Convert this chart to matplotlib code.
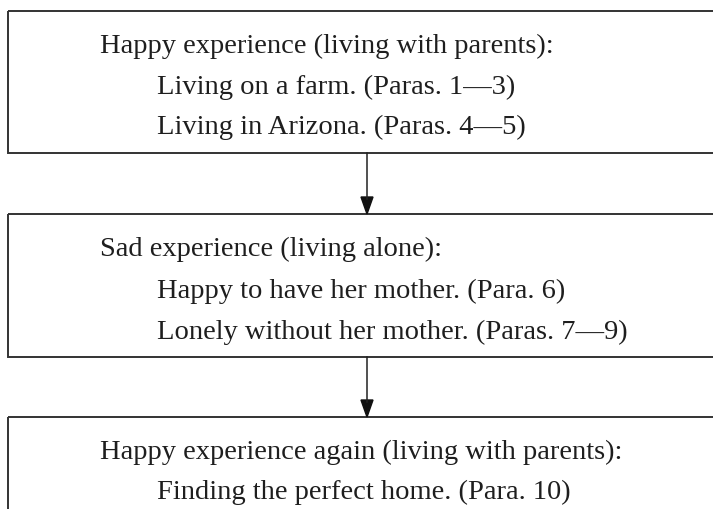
import matplotlib.pyplot as plt
from matplotlib.patches import Rectangle, Polygon

# Flow chart content
headings = ['Happy experience (living with parents):',
            'Sad experience (living alone):',
            'Happy experience again (living with parents):']
details = [['Living on a farm. (Paras. 1\u20143)', 'Living in Arizona. (Paras. 4\u20145)'],
           ['Happy to have her mother. (Para. 6)', 'Lonely without her mother. (Paras. 7\u20149)'],
           ['Finding the perfect home. (Para. 10)']]

# layout in pixels (y grows downward)
box_top = [11, 214, 417]
box_bottom = [153, 357, 540]
first_base = [53, 256, 459]
line_gap = [40.5, 41.5, 40]
box_left = 8
box_right = 730
arrow_x = 367
head_x = 100
sub_x = 157

fig = plt.figure(figsize=(7.13, 5.09), dpi=100)
ax = fig.add_axes([0, 0, 1, 1])
ax.set_xlim(0, 713)
ax.set_ylim(509, 0)
ax.axis('off')

font = dict(family='Liberation Serif', size=20.5, color='#1e1e1e', va='baseline', ha='left')

for i, head in enumerate(headings):
    ax.add_patch(Rectangle((box_left, box_top[i]), box_right - box_left,
                           box_bottom[i] - box_top[i], fill=False,
                           edgecolor='#333333', linewidth=1.4))
    y = first_base[i]
    ax.text(head_x, y, head, **font)
    for j, line in enumerate(details[i]):
        ax.text(sub_x, y + line_gap[i] * (j + 1), line, **font)

# arrows between boxes
for i in range(len(headings) - 1):
    y0 = box_bottom[i]
    y1 = box_top[i + 1]
    ax.plot([arrow_x, arrow_x], [y0, y1 - 15], color='#222222', linewidth=1.1)
    ax.add_patch(Polygon([[arrow_x - 6, y1 - 17], [arrow_x + 6, y1 - 17], [arrow_x, y1]],
                         closed=True, color='#111111'))

fig.savefig('out.png', dpi=100)
